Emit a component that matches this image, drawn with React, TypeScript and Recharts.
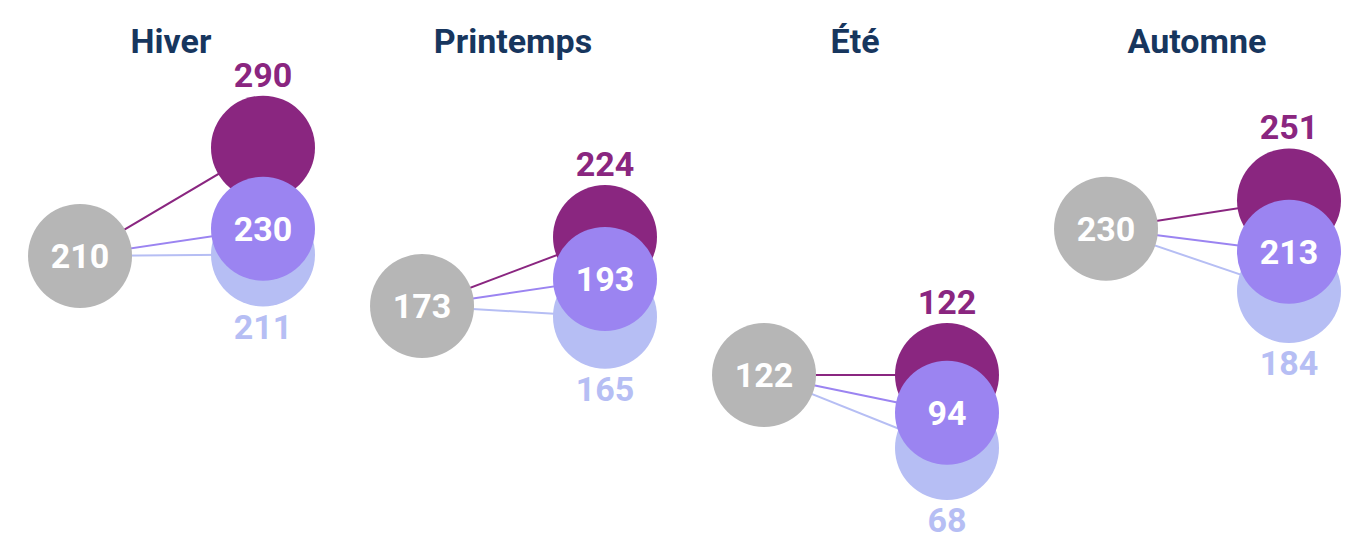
import { ScatterChart, Scatter, XAxis, YAxis } from "recharts";

const saisons = ["Hiver", "Printemps", "Été", "Automne"];
const reference = [210, 173, 122, 230];
const haut = [290, 224, 122, 251];
const milieu = [230, 193, 94, 213];
const bas = [211, 165, 68, 184];

const GRIS = "#b6b6b6";
const VIOLET = "#8a2680";
const MAUVE = "#9b84f1";
const LAVANDE = "#b6bef4";
const TITRE = "#17365e";
const R = 52;
const FONT = "Roboto, sans-serif";

// décalage horizontal dans chaque panneau
const X_GAUCHE = -0.266;
const X_DROITE = 0.269;

const pointsRef = reference.map((v, i) => ({ x: i + X_GAUCHE, y: v }));
const points = (vals: number[]) => vals.map((v, i) => ({ x: i + X_DROITE, y: v }));

// position du libellé : au-dessus, dedans ou en dessous du cercle
function bulle(fill: string, where: "haut" | "dedans" | "bas") {
  return (props: any) => {
    const { cx, cy, payload } = props;
    const ly = where === "haut" ? cy - 61 : where === "bas" ? cy + 84 : cy + 12;
    const color = where === "dedans" ? "#ffffff" : fill;
    return (
      <g>
        <circle cx={cx} cy={cy} r={R} fill={fill} />
        <text
          x={cx}
          y={ly}
          textAnchor="middle"
          fill={color}
          fontFamily={FONT}
          fontWeight={700}
          fontSize={34}
        >
          {payload.y}
        </text>
      </g>
    );
  };
}

const rien = () => <g />;

function Titre(props: any) {
  const { x, y, payload } = props;
  return (
    <text x={x} y={y} textAnchor="middle" fill={TITRE} fontFamily={FONT} fontWeight={700} fontSize={34}>
      {saisons[payload.value]}
    </text>
  );
}

const liens = [
  { vals: bas, color: LAVANDE },
  { vals: milieu, color: MAUVE },
  { vals: haut, color: VIOLET },
];

export default function App() {
  return (
    <div style={{ position: "absolute", left: 0, top: 0 }}>
      <ScatterChart width={1368} height={544} margin={{ top: 0, right: 0, bottom: 4, left: 0 }}>
        <XAxis
          type="number"
          dataKey="x"
          orientation="top"
          domain={[-0.5, 3.5]}
          ticks={[0, 1, 2, 3]}
          height={80}
          axisLine={false}
          tickLine={false}
          tickSize={0}
          tickMargin={27}
          tick={<Titre />}
        />
        <YAxis type="number" dataKey="y" domain={[0, 340]} hide />
        {saisons.flatMap((s, i) =>
          liens.map((l, k) => (
            <Scatter
              key={`${s}-${k}`}
              data={[
                { x: i + X_GAUCHE, y: reference[i] },
                { x: i + X_DROITE, y: l.vals[i] },
              ]}
              line={{ stroke: l.color, strokeWidth: 2 }}
              lineType="joint"
              shape={rien}
              isAnimationActive={false}
            />
          ))
        )}
        <Scatter data={points(bas)} shape={bulle(LAVANDE, "bas")} isAnimationActive={false} />
        <Scatter data={points(haut)} shape={bulle(VIOLET, "haut")} isAnimationActive={false} />
        <Scatter data={points(milieu)} shape={bulle(MAUVE, "dedans")} isAnimationActive={false} />
        <Scatter data={pointsRef} shape={bulle(GRIS, "dedans")} isAnimationActive={false} />
      </ScatterChart>
    </div>
  );
}
